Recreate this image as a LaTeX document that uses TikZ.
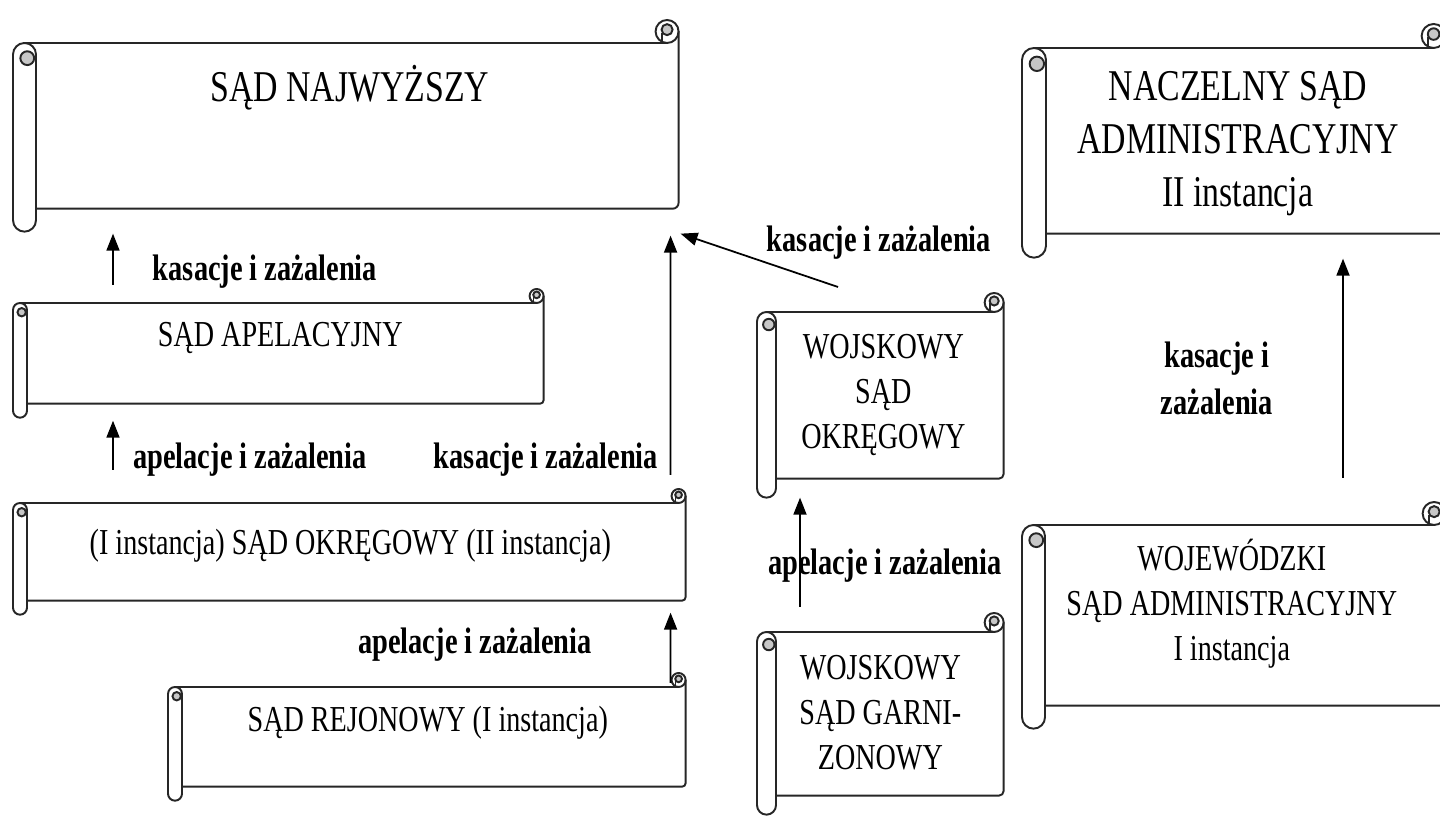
\documentclass[tikz,border=0pt]{standalone}
\usepackage{fontspec}
\setmainfont{Liberation Serif}[FakeStretch=0.77]
\usetikzlibrary{arrows.meta}

\tikzset{
  scr/.style = {draw=black!85, line width=1.1pt},
  box/.style = {inner sep=0pt, anchor=north west},
  txt/.style = {font=\fontsize{20.8}{25.6}\selectfont, align=center},
  bigtxt/.style = {font=\fontsize{25}{30}\selectfont, align=center},
  lab/.style = {font=\fontsize{21}{26.7}\selectfont\bfseries, align=center, inner sep=1pt},
  arr/.style = {-{Triangle[length=0.34cm,width=0.26cm]}, line width=1pt},
}

% scroll drawn round the body of node #1, curl size #2 (px)
\newcommand{\scroll}[2]{%
  \pgfmathsetmacro\sr{#2*0.01}%
  \pgfmathsetmacro\sq{#2*0.005}%
  \draw[scr] ([shift={(#2/2,0)}]#1.north west) -- ([shift={(-#2/2,0)}]#1.north east)
    arc[start angle=-90, end angle=270, radius=#2/2];
  \draw[scr, rounded corners=\sq cm] ([shift={(0,#2/2)}]#1.north east) -- (#1.south east)
    -- ([shift={(#2,0)}]#1.south west);
  \draw[scr, fill=black!22] ([shift={(-#2/2,#2*0.58)}]#1.north east) circle[radius=#2*0.24];
  \draw[scr] ([shift={(-#2*0.72,0)}]#1.north east) -- ++(0,#2*0.45);
  \draw[scr, fill=white, rounded corners=\sr cm] (#1.north west) rectangle ([shift={(#2,-#2)}]#1.south west);
  \draw[scr, fill=black!22] ([shift={(#2*0.62,-#2*0.66)}]#1.north west) circle[radius=#2*0.3];
}

\begin{document}
\begin{tikzpicture}[x=0.02cm, y=0.02cm]
  \useasboundingbox (0,0) rectangle (1440,817);
  \fill[white] (0,0) rectangle (1440,817);

  % courts
  \node[box, minimum width=13.3cm, minimum height=3.3cm] (naj) at (13,774) {};
  \node[box, minimum width=10.6cm, minimum height=2cm] (apel) at (13,514) {};
  \node[box, minimum width=13.44cm, minimum height=1.94cm] (okr) at (13,314) {};
  \node[box, minimum width=10.34cm, minimum height=1.98cm] (rej) at (168,130) {};
  \node[box, minimum width=4.92cm, minimum height=3.32cm] (wso) at (757,505) {};
  \node[box, minimum width=4.92cm, minimum height=3.26cm] (wsg) at (757,185) {};
  \node[box, minimum width=8.46cm, minimum height=3.7cm] (nsa) at (1022,769) {};
  \node[box, minimum width=8.46cm, minimum height=3.6cm] (wsa) at (1022,292) {};

  \scroll{naj}{23}
  \scroll{apel}{14}
  \scroll{okr}{14}
  \scroll{rej}{14}
  \scroll{wso}{19}
  \scroll{wsg}{19}
  \scroll{nsa}{24}
  \scroll{wsa}{23}

  \node[bigtxt] (najtxt) at ([shift={(4,-45)}]naj.north) {SĄD NAJWYŻSZY};
  \node[txt] (apeltxt) at ([shift={(2,15)}]apel.center) {SĄD APELACYJNY};
  \node[txt] (okrtxt) at ([shift={(1,6)}]okr.center) {(I instancja) SĄD OKRĘGOWY (II instancja)};
  \node[txt] (rejtxt) at ([shift={(1,14)}]rej.center) {SĄD REJONOWY (I instancja)};
  \node[txt] (wsotxt) at ([shift={(3,0)}]wso.center) {WOJSKOWY\\SĄD\\OKRĘGOWY};
  \node[txt] (wsgtxt) at ([shift={(0,1)}]wsg.center) {WOJSKOWY\\SĄD GARNI-\\ZONOWY};
  \node[bigtxt] (nsatxt) at ([shift={(4,-3)}]nsa.center) {NACZELNY SĄD\\ADMINISTRACYJNY\\II instancja};
  \node[txt] (wsatxt) at ([shift={(-2,12)}]wsa.center) {WOJEWÓDZKI\\SĄD ADMINISTRACYJNY\\I instancja};

  % appeals
  \draw[arr] ([shift={(100,18)}]apel.north west) -- ([shift={(100,-25)}]naj.south west);
  \draw[arr] ([shift={(100,33)}]okr.north west) -- ([shift={(100,-17)}]apel.south west);
  \draw[arr] ([shift={(-15,28)}]okr.north east) -- ([shift={(-8,-27)}]naj.south east);
  \draw[arr] ([shift={(81,25)}]wso.north west) -- ([shift={(2,-25)}]naj.south east);
  \draw[arr] ([shift={(-15,4)}]rej.north east) -- ([shift={(-15,-12)}]okr.south east);
  \draw[arr] ([shift={(43,25)}]wsg.north west) -- ([shift={(43,-19)}]wso.south west);
  \draw[arr] ([shift={(321,47)}]wsa.north west) -- ([shift={(321,-25)}]nsa.south west);

  \node[lab] (l1) at (265,545) {kasacje i zażalenia};
  \node[lab] (l2) at (250,357) {apelacje i zażalenia};
  \node[lab] (l3) at (546,357) {kasacje i zażalenia};
  \node[lab] (l4) at (879,574) {kasacje i zażalenia};
  \node[lab] (l5) at (475,172) {apelacje i zażalenia};
  \node[lab] (l6) at (885,251) {apelacje i zażalenia};
  \node[lab] (l7) at (1217,439) {kasacje i\\zażalenia};
\end{tikzpicture}
\end{document}
